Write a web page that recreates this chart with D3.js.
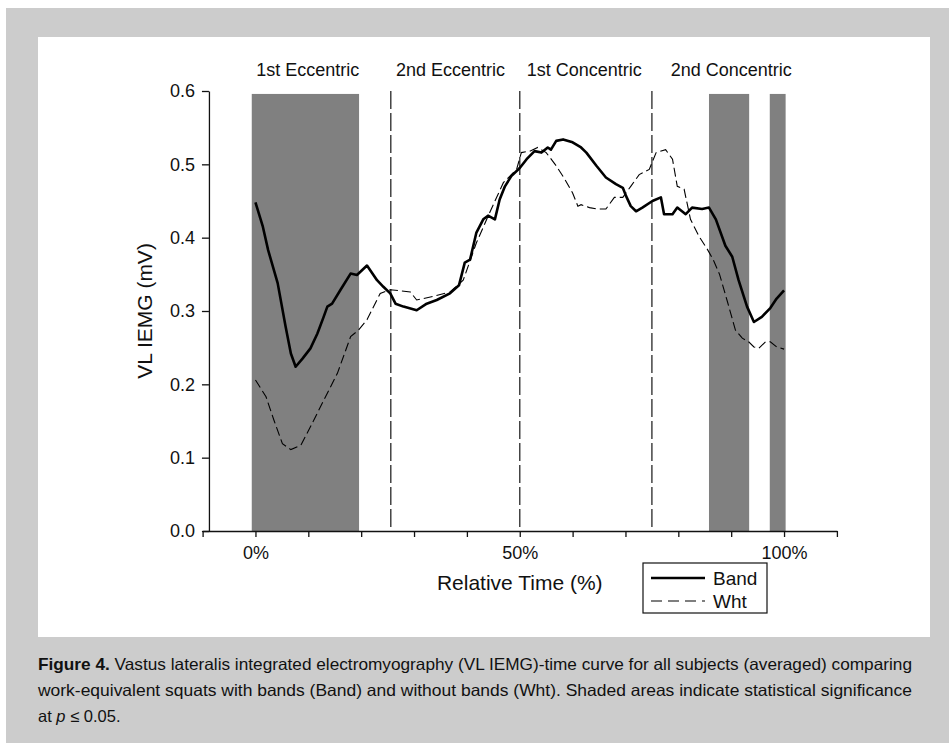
<!DOCTYPE html>
<html>
<head>
<meta charset="utf-8">
<script src="https://cdn.jsdelivr.net/npm/d3@7"></script>
<style>
  body { margin: 0; background: #fff; }
  svg text { font-family: "Liberation Sans", Arial, Helvetica, sans-serif; fill: #111; }
  .axis path, .axis line { stroke: #111; stroke-width: 1.3; }
  .axis text { font-size: 18px; fill: #111; }
</style>
</head>
<body>
<div id="chart"></div>
<script>
// relative time (%) and VL IEMG (mV)
var bandTime = [0, 1.4, 2.4, 4.2, 5.7, 6.7, 7.6, 8.9, 10.4, 11.7, 12.9, 13.6, 14.5, 16.1, 18.0, 19.2, 21.1, 23.0, 24.2, 25.5,
  26.5, 28.0, 30.5, 32.4, 34.3, 36.8, 38.5, 39.6, 40.6, 41.8, 43.1, 44.0, 45.3, 46.2, 47.2, 48.4, 50.0, 51.3, 52.8, 54.1,
  55.3, 55.9, 56.9, 58.2, 60.0, 61.6, 62.6, 64.5, 66.3, 68.2, 69.5, 70.1, 71.0, 72.0, 73.2, 75.1, 76.7, 77.3, 78.9, 79.8,
  81.4, 82.6, 84.5, 85.8, 87.1, 88.9, 90.2, 91.4, 93.0, 94.3, 95.8, 97.4, 98.6, 100];
var bandIemg = [0.448, 0.415, 0.383, 0.338, 0.279, 0.242, 0.224, 0.235, 0.249, 0.269, 0.292, 0.306, 0.310, 0.329, 0.351, 0.349, 0.362, 0.342, 0.333, 0.324,
  0.310, 0.306, 0.301, 0.310, 0.315, 0.324, 0.335, 0.366, 0.370, 0.407, 0.425, 0.430, 0.425, 0.452, 0.470, 0.484, 0.495, 0.507, 0.518, 0.516,
  0.523, 0.520, 0.532, 0.534, 0.530, 0.523, 0.516, 0.498, 0.482, 0.473, 0.468, 0.457, 0.443, 0.436, 0.441, 0.450, 0.455, 0.432, 0.432, 0.441,
  0.432, 0.441, 0.439, 0.441, 0.425, 0.389, 0.374, 0.342, 0.306, 0.285, 0.292, 0.304, 0.317, 0.328];

var whtTime = [0, 2.0, 3.5, 5.1, 6.7, 8.6, 10.4, 12.9, 15.5, 18.0, 19.5, 21.1, 23.6, 25.5, 29.3, 30.5, 33.7, 36.8, 39.3, 41.8,
  44.3, 46.9, 49.4, 50.3, 51.9, 53.4, 55.0, 56.9, 58.5, 60.0, 61.0, 61.6, 63.2, 64.7, 66.3, 67.9, 69.5, 71.0, 72.6, 74.5,
  75.8, 77.6, 78.9, 79.8, 81.1, 82.3, 83.9, 85.5, 86.6, 87.8, 89.2, 90.8, 92.1, 93.3, 94.3, 95.2, 96.5, 97.4, 98.6, 100];
var whtIemg = [0.206, 0.183, 0.151, 0.119, 0.111, 0.117, 0.142, 0.178, 0.215, 0.265, 0.274, 0.288, 0.324, 0.329, 0.326, 0.315, 0.320, 0.326, 0.342, 0.393,
  0.434, 0.475, 0.493, 0.516, 0.518, 0.523, 0.516, 0.498, 0.480, 0.461, 0.443, 0.445, 0.441, 0.439, 0.439, 0.455, 0.455, 0.470, 0.486, 0.493,
  0.516, 0.520, 0.507, 0.470, 0.466, 0.425, 0.402, 0.384, 0.370, 0.350, 0.315, 0.274, 0.263, 0.258, 0.251, 0.249, 0.258, 0.258, 0.251, 0.248];

// shaded areas (p <= 0.05)
var sigStart = [-0.7, 85.8, 97.3];
var sigEnd = [19.6, 93.4, 100.3];
var sigTop = 0.596;

// phase boundaries and labels
var phaseLines = [25.6, 50, 75];
var phaseNames = ["1st Eccentric", "2nd Eccentric", "1st Concentric", "2nd Concentric"];
var phaseLabelAt = [9.9, 36.9, 62.2, 90.0];

var xTicks = [-10, 0, 10, 20, 30, 40, 50, 60, 70, 80, 90, 100, 110];
var xLabels = {0: "0%", 50: "50%", 100: "100%"};
var yTicks = [0, 0.1, 0.2, 0.3, 0.4, 0.5, 0.6];

var W = 949, H = 743;
var svg = d3.select("#chart").append("svg").attr("width", W).attr("height", H);

// page background + figure panel
svg.append("rect").attr("x", 6).attr("y", 8).attr("width", W - 6).attr("height", H - 8).attr("fill", "#cccccc");
svg.append("rect").attr("x", 38).attr("y", 37).attr("width", 892).attr("height", 600).attr("fill", "#ffffff");

var x = d3.scaleLinear().domain([-10, 110]).range([202.6, 836.9]);
var y = d3.scaleLinear().domain([0, 0.6]).range([531, 91]);
var yAxisAt = -8.8;

var band = bandTime.map(function(t, i) { return {t: t, v: bandIemg[i]}; });
var wht = whtTime.map(function(t, i) { return {t: t, v: whtIemg[i]}; });

// significance shading
svg.selectAll("rect.sig")
  .data(sigStart)
  .enter().append("rect")
  .attr("class", "sig")
  .attr("x", function(d) { return x(d); })
  .attr("width", function(d, i) { return x(sigEnd[i]) - x(d); })
  .attr("y", y(sigTop))
  .attr("height", y(0) - y(sigTop))
  .attr("fill", "#808080");

// phase dividers
svg.selectAll("line.phase")
  .data(phaseLines)
  .enter().append("line")
  .attr("class", "phase")
  .attr("x1", function(d) { return x(d); })
  .attr("x2", function(d) { return x(d); })
  .attr("y1", y(0.6))
  .attr("y2", y(0))
  .attr("stroke", "#444")
  .attr("stroke-width", 1.5)
  .attr("stroke-dasharray", "18,4");

svg.selectAll("text.phase")
  .data(phaseNames)
  .enter().append("text")
  .attr("class", "phase")
  .attr("x", function(d, i) { return x(phaseLabelAt[i]); })
  .attr("y", 76)
  .attr("text-anchor", "middle")
  .style("font-size", "18px")
  .text(function(d) { return d; });

var line = d3.line()
  .x(function(d) { return x(d.t); })
  .y(function(d) { return y(d.v); });

svg.append("path")
  .attr("d", line(wht))
  .attr("fill", "none")
  .attr("stroke", "#000")
  .attr("stroke-width", 1.1)
  .attr("stroke-dasharray", "9,4");

svg.append("path")
  .attr("d", line(band))
  .attr("fill", "none")
  .attr("stroke", "#000")
  .attr("stroke-width", 2.6)
  .attr("stroke-linejoin", "round");

// axes
var xAxis = d3.axisBottom(x)
  .tickValues(xTicks)
  .tickSize(6)
  .tickSizeOuter(0)
  .tickFormat(function(d) { return xLabels[d] || ""; });

svg.append("g")
  .attr("class", "axis x")
  .attr("transform", "translate(0," + y(0) + ")")
  .call(xAxis)
  .selectAll("text").attr("dy", "1.05em");

var yAxis = d3.axisLeft(y)
  .tickValues(yTicks)
  .tickSize(7)
  .tickSizeOuter(0)
  .tickFormat(d3.format(".1f"));

svg.append("g")
  .attr("class", "axis y")
  .attr("transform", "translate(" + x(yAxisAt) + ",0)")
  .call(yAxis)
  .selectAll("text").attr("x", -14);

svg.append("text")
  .attr("x", x(50))
  .attr("y", 590)
  .attr("text-anchor", "middle")
  .style("font-size", "21px")
  .text("Relative Time (%)");

svg.append("text")
  .attr("transform", "rotate(-90)")
  .attr("x", -(y(0.3)))
  .attr("y", 152)
  .attr("text-anchor", "middle")
  .style("font-size", "21px")
  .text("VL IEMG (mV)");

// legend
var legend = svg.append("g").attr("transform", "translate(643,563)");
legend.append("rect").attr("width", 124).attr("height", 50)
  .attr("fill", "#fff").attr("stroke", "#111").attr("stroke-width", 1.2);
legend.append("line").attr("x1", 8).attr("x2", 62).attr("y1", 15).attr("y2", 15)
  .attr("stroke", "#000").attr("stroke-width", 2.6);
legend.append("line").attr("x1", 8).attr("x2", 62).attr("y1", 38).attr("y2", 38)
  .attr("stroke", "#000").attr("stroke-width", 1.1).attr("stroke-dasharray", "11,6");
legend.append("text").attr("x", 70).attr("y", 22).style("font-size", "19px").text("Band");
legend.append("text").attr("x", 70).attr("y", 45).style("font-size", "19px").text("Wht");

// caption
var capLines = [
  ["Figure 4.", " Vastus lateralis integrated electromyography (VL IEMG)-time curve for all subjects (averaged) comparing"],
  ["", "work-equivalent squats with bands (Band) and without bands (Wht). Shaded areas indicate statistical significance"]
];
var capW = [874, 874];
capLines.forEach(function(c, i) {
  var t = svg.append("text")
    .attr("x", 38)
    .attr("y", 670 + i * 26)
    .attr("textLength", capW[i])
    .attr("lengthAdjust", "spacingAndGlyphs")
    .style("font-size", "16.5px");
  if (c[0]) t.append("tspan").style("font-weight", "bold").text(c[0]);
  t.append("tspan").text(c[1]);
});
var last = svg.append("text").attr("x", 38).attr("y", 722).style("font-size", "16.5px");
last.append("tspan").text("at ");
last.append("tspan").style("font-style", "italic").text("p");
last.append("tspan").text(" \u2264 0.05.");
</script>
</body>
</html>
